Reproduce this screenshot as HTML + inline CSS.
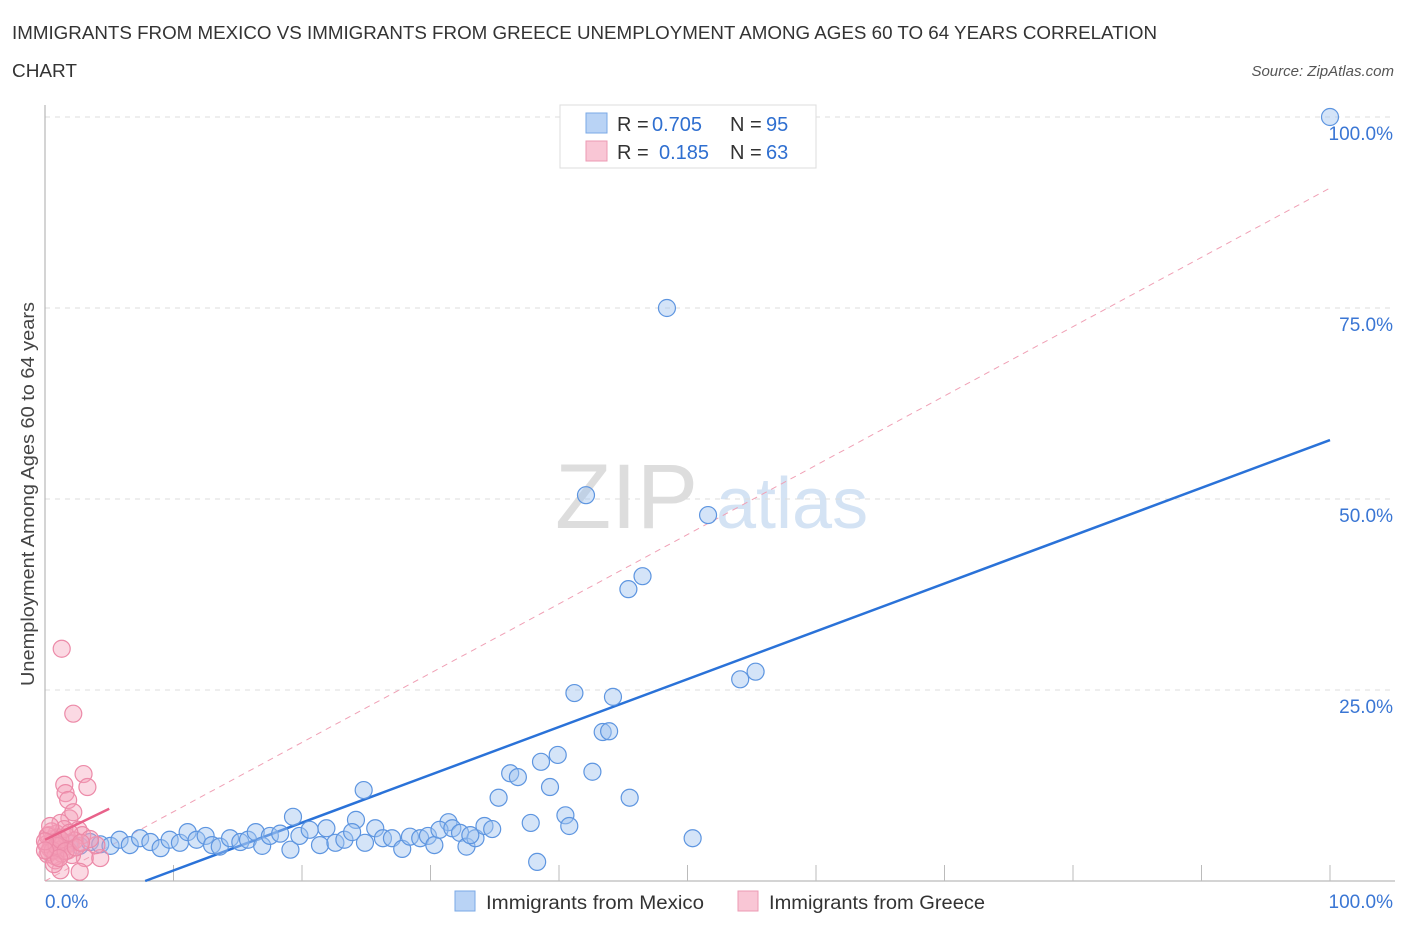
<!DOCTYPE html>
<html><head><meta charset="utf-8">
<style>
body{margin:0;background:#fff;font-family:"Liberation Sans",sans-serif;}
svg text{font-family:"Liberation Sans",sans-serif;}
</style></head>
<body>
<svg id="chart" width="1406" height="930" xmlns="http://www.w3.org/2000/svg">
<text x="12" y="39" font-size="18" fill="#333" textLength="1145" lengthAdjust="spacingAndGlyphs">IMMIGRANTS FROM MEXICO VS IMMIGRANTS FROM GREECE UNEMPLOYMENT AMONG AGES 60 TO 64 YEARS CORRELATION</text>
<text x="12" y="77" font-size="18" fill="#333" textLength="65" lengthAdjust="spacingAndGlyphs">CHART</text>
<text x="1394" y="76" font-size="15" font-style="italic" fill="#555" text-anchor="end">Source: ZipAtlas.com</text>
<text transform="translate(34,494) rotate(-90)" font-size="18" fill="#444" text-anchor="middle" textLength="384" lengthAdjust="spacingAndGlyphs">Unemployment Among Ages 60 to 64 years</text>
<g>
<text x="555" y="528" font-size="92" font-family="Liberation Serif" fill="#ddd">ZIP</text>
<text x="716" y="528" font-size="72" fill="#d4e3f4">atlas</text>
</g>
<g id="grid"></g><g id="axes"></g><g id="lines"></g><g id="pts"></g>
<g>
<rect x="560" y="105" width="256" height="63" fill="#fff" stroke="#ddd"/>
<rect x="586" y="113" width="21" height="20" fill="#b9d3f5" stroke="#7aa8e6"/>
<rect x="586" y="141" width="21" height="20" fill="#f9c6d5" stroke="#ec9ab3"/>
<text x="617" y="131" font-size="20" fill="#333">R =</text>
<text x="652" y="131" font-size="20" fill="#2f6fd0">0.705</text>
<text x="730" y="131" font-size="20" fill="#333">N =</text>
<text x="766" y="131" font-size="20" fill="#2f6fd0">95</text>
<text x="617" y="159" font-size="20" fill="#333">R =</text>
<text x="659" y="159" font-size="20" fill="#2f6fd0">0.185</text>
<text x="730" y="159" font-size="20" fill="#333">N =</text>
<text x="766" y="159" font-size="20" fill="#2f6fd0">63</text>
</g>
<g>
<rect x="455" y="891" width="20" height="20" fill="#b9d3f5" stroke="#7aa8e6"/>
<text x="486" y="909" font-size="19" fill="#333" textLength="218" lengthAdjust="spacingAndGlyphs">Immigrants from Mexico</text>
<rect x="738" y="891" width="20" height="20" fill="#f9c6d5" stroke="#ec9ab3"/>
<text x="769" y="909" font-size="19" fill="#333" textLength="216" lengthAdjust="spacingAndGlyphs">Immigrants from Greece</text>
</g>
</svg>
<script>
const mexicoX=[100,48.4,42.1,51.6,46.5,45.4,41.2,44.2,54.1,55.3,43.4,43.9,39.9,38.6,36.2,36.8,42.6,39.3,35.3,45.5,24.8,40.5,40.8,37.8,50.4,38.3,19.3,24.2,31.4,1.2,1.9,2.7,3.5,4.3,5.1,5.8,6.6,7.4,8.2,9.0,9.7,10.5,11.1,11.8,12.5,13.0,13.6,14.4,15.2,15.8,16.4,16.9,17.5,18.3,19.1,19.8,20.6,21.4,21.9,22.6,23.3,23.9,24.9,25.7,26.3,27.0,27.8,28.4,29.2,29.8,30.3,30.7,31.7,32.3,32.8,33.5,34.2,34.8,33.1];
const mexicoY=[100,75,50.5,47.9,39.9,38.2,24.6,24.1,26.4,27.4,19.5,19.6,16.5,15.6,14.1,13.6,14.3,12.3,10.9,10.9,11.9,8.6,7.2,7.6,5.6,2.5,8.4,8.0,7.7,4.7,5.0,4.6,5.1,4.8,4.6,5.4,4.7,5.6,5.1,4.3,5.4,5.0,6.4,5.4,5.9,4.7,4.5,5.6,5.1,5.4,6.4,4.6,5.9,6.2,4.1,5.9,6.7,4.7,6.9,5.0,5.4,6.4,5.0,6.9,5.6,5.6,4.2,5.8,5.6,5.9,4.7,6.7,6.9,6.3,4.5,5.6,7.2,6.8,6.0];
const greeceX=[1.3,2.2,3.0,1.5,1.6,3.3,1.8,1.9,2.2,1.2,2.6,2.9,3.1,2.7,1.2,0.8,4.3,4.0,3.5,0.3,0.5,0.7,1.0,0.2,0.4,0.6,0.9,1.1,1.4,1.7,2.0,2.3,0.1,0.3,0.5,0.8,1.0,1.3,1.5,1.8,2.1,0.2,0.6,0.9,1.2,1.6,2.4,0.4,1.9,0.7,1.1,2.8,0.0,0.0];
const greeceY=[30.4,21.9,14,12.6,11.5,12.3,10.6,8.2,9.0,7.6,6.7,6.0,3.0,1.2,1.4,2.7,3.0,4.7,5.5,6.0,5.0,4.5,4.0,3.5,4.2,5.5,6.2,5.0,4.3,5.8,4.9,5.3,4.8,3.8,6.5,3.2,5.7,3.6,6.8,4.0,3.4,5.9,4.0,4.6,5.4,3.9,4.4,7.2,6.3,2.2,3.0,5.0,5.2,4.0];
const yTicks=[25,50,75,100];
const yTickLabels=["25.0%","50.0%","75.0%","100.0%"];
const xTickLabels=["0.0%","100.0%"];
const mexicoFit=[-4.88,0.626];
const greeceFit=[5.4,0.81];
const refLine=[0,0.907];

const NS="http://www.w3.org/2000/svg";
const X=v=>45+v*12.85, Y=v=>881-v*7.64;
function mk(p,t,a){const e=document.createElementNS(NS,t);for(const k in a)e.setAttribute(k,a[k]);document.getElementById(p).appendChild(e);return e;}
yTicks.forEach((t,i)=>{
 const l=mk('grid','line',{x1:45,x2:1395,y1:Y(t),y2:Y(t),stroke:'#ddd','stroke-dasharray':'5,5'});
 
 
 const tx=mk('grid','text',{x:1393,y:Y(t)+23,'font-size':19,fill:'#3a76d4','text-anchor':'end'});
 tx.textContent=yTickLabels[i];
 
 
});
let a=mk('axes','line',{x1:45,x2:45,y1:105,y2:881,stroke:'#aaa'});


a=mk('axes','line',{x1:45,x2:1395,y1:881,y2:881,stroke:'#aaa'});


for(let i=1;i<=10;i++){const t=mk('axes','line',{x1:X(i*10),x2:X(i*10),y1:865,y2:881,stroke:'#bbb'});
 
 }
[[0,'start',45],[100,'end',1393]].forEach((d,i)=>{const t=mk('axes','text',{x:d[2],y:908,'font-size':19,fill:'#3a76d4','text-anchor':d[1]});t.textContent=xTickLabels[i];
 
 });
let l=mk('lines','line',{x1:X(0),y1:Y(refLine[0]),x2:X(100),y2:Y(refLine[0]+refLine[1]*100),stroke:'#f0a0b5','stroke-dasharray':'6,5','stroke-width':1});


const x0=-mexicoFit[0]/mexicoFit[1];
l=mk('lines','line',{x1:X(x0),y1:Y(0),x2:X(100),y2:Y(mexicoFit[0]+mexicoFit[1]*100),stroke:'#2a72d8','stroke-width':2.5});


mexicoX.forEach((v,i)=>{const c=mk('pts','circle',{cx:X(v),cy:Y(mexicoY[i]),r:8.5,fill:'rgba(160,196,240,0.45)',stroke:'#5d95e0','stroke-width':1.2});
 
 });
greeceX.forEach((v,i)=>{const c=mk('pts','circle',{cx:X(v),cy:Y(greeceY[i]),r:8.5,fill:'rgba(245,160,186,0.4)',stroke:'#ec8aa8','stroke-width':1.2});
 
 });
l=mk('pts','line',{x1:X(0),y1:Y(greeceFit[0]),x2:X(5),y2:Y(greeceFit[0]+greeceFit[1]*5),stroke:'#e8628a','stroke-width':2.5});


</script>
</body></html>
